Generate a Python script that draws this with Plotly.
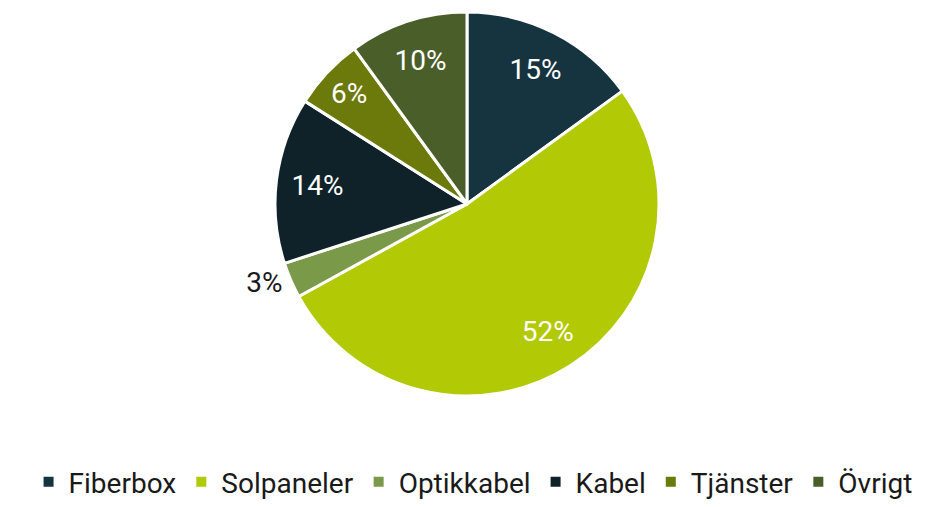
import plotly.graph_objects as go

categories = ["Fiberbox", "Solpaneler", "Optikkabel", "Kabel", "Tjänster", "Övrigt"]
values = [15, 52, 3, 14, 6, 10]
colors = ["#16343f", "#b2c905", "#7a9a4a", "#0f2229", "#6b7a0a", "#4a5e2a"]
text_labels = ["15%", "52%", "3%", "14%", "6%", "10%"]
positions = ["inside", "inside", "outside", "inside", "inside", "inside"]

FONT = "Roboto, sans-serif"
W, H = 932, 499
PLOT_H = 407.0

pie_domain = dict(x=[0, 918 / W], y=[(PLOT_H - 388) / PLOT_H, (PLOT_H - 4) / PLOT_H])

# base pie: coloured slices + legend
fig = go.Figure(go.Pie(
    labels=categories,
    values=values,
    textinfo="none",
    sort=False,
    direction="clockwise",
    rotation=0,
    marker=dict(colors=colors, line=dict(color="white", width=3)),
    domain=pie_domain,
    hoverinfo="label+percent",
))

# transparent ring pie that carries the percentage labels
fig.add_trace(go.Pie(
    labels=categories,
    values=values,
    text=text_labels,
    textinfo="text",
    textposition=positions,
    sort=False,
    direction="clockwise",
    rotation=0,
    hole=0.57,
    showlegend=False,
    hoverinfo="skip",
    marker=dict(colors=["rgba(0,0,0,0)"] * len(values), line=dict(width=0)),
    insidetextfont=dict(color="white", size=28, family=FONT),
    outsidetextfont=dict(color="#1a1a1a", size=28, family=FONT),
    insidetextorientation="horizontal",
    domain=pie_domain,
))

fig.update_layout(
    width=W, height=H,
    margin=dict(l=0, r=0, t=0, b=92, autoexpand=False),
    paper_bgcolor="white",
    font=dict(family=FONT, size=28, color="#1a1a1a"),
    showlegend=True,
    legend=dict(orientation="h", x=0.499, xanchor="center", y=(PLOT_H - H) / PLOT_H,
                yanchor="bottom", font=dict(size=28), itemsizing="constant",
                traceorder="normal"),
)

fig.write_html("out.html")
